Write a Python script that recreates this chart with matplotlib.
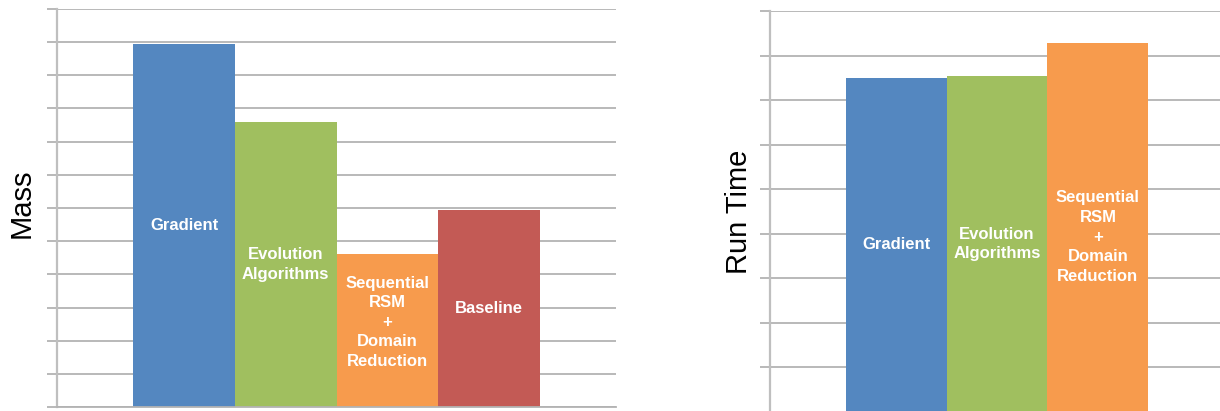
import matplotlib
matplotlib.use("Agg")
import matplotlib.pyplot as plt
import numpy as np

plt.rcParams['font.family'] = ['Liberation Sans', 'DejaVu Sans']

# Data (arbitrary units, no tick labels in reference)
mass_categories = ["Gradient", "Evolution\nAlgorithms", "Sequential\nRSM\n+\nDomain\nReduction", "Baseline"]
mass_values = [10.95, 8.6, 4.62, 5.94]
mass_colors = ["#5487C0", "#A0BF5F", "#F79B4D", "#C35A55"]

time_categories = ["Gradient", "Evolution\nAlgorithms", "Sequential\nRSM\n+\nDomain\nReduction"]
time_values = [7.5, 7.53, 8.29]
time_colors = ["#5487C0", "#A0BF5F", "#F79B4D"]

mass_ylim = 12
time_ylim = 9

W, H = 1220, 411
fig = plt.figure(figsize=(W / 100, H / 100), dpi=100)

grid_c = "#b3b3b3"
spine_c = "#bfbfbf"

def style(ax, ymax):
    ax.set_ylim(0, ymax)
    ax.set_yticks(np.arange(0, ymax + 1))
    ax.set_yticklabels([])
    ax.set_xticks([])
    ax.yaxis.grid(True, color=grid_c, linewidth=1.3)
    ax.set_axisbelow(True)
    for s in ["top", "right"]:
        ax.spines[s].set_visible(False)
    ax.spines["left"].set_color(spine_c)
    ax.spines["left"].set_linewidth(1.6)
    ax.spines["bottom"].set_color(grid_c)
    ax.spines["bottom"].set_linewidth(1.3)
    ax.tick_params(axis="y", length=7, width=1.3, color=grid_c, direction="out")

def draw(ax, cats, vals, cols, ymax, label_dy):
    x = np.arange(len(cats))
    bars = ax.bar(x, vals, width=1.0, color=cols, edgecolor="none", zorder=2)
    style(ax, ymax)
    ax.set_xlim(-1.25, len(cats) + 0.25)
    for i, (b, lab) in enumerate(zip(bars, cats)):
        ax.annotate(lab, (b.get_x() + b.get_width() / 2, b.get_height() / 2),
                    xytext=(0, -label_dy.get(i, 0) * 0.72), textcoords="offset points",
                    ha="center", va="center", color="white", fontsize=12,
                    fontweight="bold", linespacing=1.38, zorder=3)

ax1 = fig.add_axes([57 / W, 1 - 407 / H, 559 / W, 398 / H])
draw(ax1, mass_categories, mass_values, mass_colors, mass_ylim, {2: -8})

ax2 = fig.add_axes([770 / W, 1 - 411.5 / H, 454 / W, 400.5 / H])
draw(ax2, time_categories, time_values, time_colors, time_ylim, {2: 10})

fig.text(22 / W, 1 - 203 / H, "Mass", rotation=90, ha="center", va="center", fontsize=21)
fig.text(739 / W, 1 - 212 / H, "Run Time", rotation=90, ha="center", va="center", fontsize=21)

fig.savefig("out.png", dpi=100)
